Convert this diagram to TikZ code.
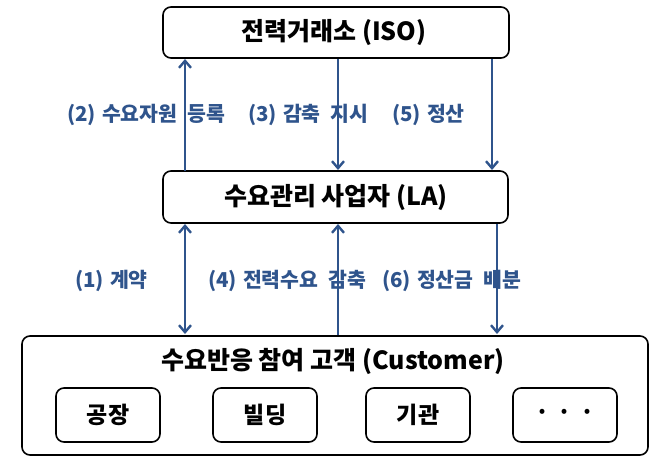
\documentclass[tikz,border=0pt]{standalone}
\usepackage{fontspec}
\setmainfont{Noto Sans CJK KR}
\usetikzlibrary{arrows.meta}
\definecolor{arrblue}{RGB}{47,84,140}
\newcommand{\ws}{\hspace{6pt}}
\newcommand{\wg}{\hspace{10pt}}
\tikzset{
  box/.style={draw=black, line width=1.6pt, rounded corners=8pt, fill=white, inner sep=0pt},
  title/.style={font=\bfseries\fontsize{25}{28}\selectfont, text=black},
  inner/.style={font=\bfseries\fontsize{23}{26}\selectfont, text=black},
  lab/.style={font=\bfseries\fontsize{20.5}{24}\selectfont, text=arrblue, inner sep=0pt, anchor=west},
  arr/.style={draw=arrblue, line width=2.8pt, -{Straight Barb[length=7pt,width=12pt,line width=2.4pt]}},
  darr/.style={draw=arrblue, line width=2.8pt, {Straight Barb[length=7pt,width=12pt,line width=2.4pt]}-{Straight Barb[length=7pt,width=12pt,line width=2.4pt]}}
}
\begin{document}
\begin{tikzpicture}[x=1pt,y=-1pt]
\useasboundingbox (0,0) rectangle (653,458);
% boxes
\draw[box] (163,7) rectangle (509,58);
\node[title] (iso) at (334,33) {전력거래소 (ISO)};
\draw[box] (163,171) rectangle (508,223);
\node[title] (la) at (336,197) {수요관리 사업자 (LA)};
\draw[box] (22,336) rectangle (648,455);
\node[title] (cu) at (333,361) {수요반응 참여 고객 (Customer)};
% inner boxes
\node[box, minimum width=104pt, minimum height=54pt, inner] (b1) at (108,415) {공장};
\node[box, minimum width=104pt, minimum height=54pt, inner] (b2) at (265,415) {빌딩};
\node[box, minimum width=104pt, minimum height=54pt, inner] (b3) at (418,415) {기관};
\node[box, minimum width=104pt, minimum height=54pt, inner] (b4) at (565,415) {·\hspace{8pt}·\hspace{8pt}·};
% labels
\node[lab] (l2) at (67,115) {(2)\ws 수요자원\wg 등록};
\node[lab] (l3) at (248,115) {(3)\ws 감축\wg 지시};
\node[lab] (l5) at (392,115) {(5)\ws 정산};
\node[lab] (l1) at (75,281) {(1)\ws 계약};
\node[lab] (l4) at (208,281) {(4)\ws 전력수요\wg 감축};
\node[lab] (l6) at (382,281) {(6)\ws 정산금\wg 배분};
% coordinates
\coordinate (a1s) at (185,171); \coordinate (a1e) at (185,59);
\coordinate (a3s) at (338,59); \coordinate (a3e) at (338,170);
\coordinate (a5s) at (492,59); \coordinate (a5e) at (492,170);
\coordinate (c1s) at (185,224); \coordinate (c1e) at (185,334);
\coordinate (c4s) at (338,335); \coordinate (c4e) at (338,224);
\coordinate (c6s) at (497,224); \coordinate (c6e) at (497,334);
\draw[arr] (a1s) -- (a1e);
\draw[arr] (a3s) -- (a3e);
\draw[arr] (a5s) -- (a5e);
\draw[darr] (c1s) -- (c1e);
\draw[arr] (c4s) -- (c4e);
\draw[arr] (c6s) -- (c6e);
\end{tikzpicture}
\end{document}
